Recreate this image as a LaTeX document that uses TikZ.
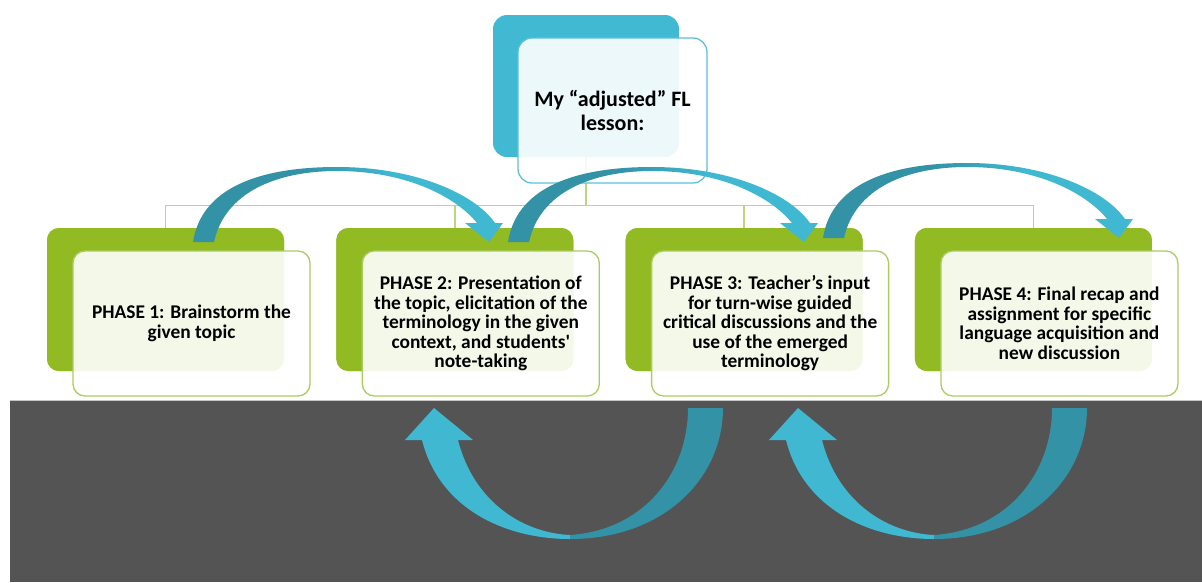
\documentclass[tikz,border=0pt]{standalone}
\usepackage{fontspec}
\setmainfont{Carlito}
\usepackage{tikz}
\usepackage{xcolor}
\usetikzlibrary{positioning}

\definecolor{phasegreen}{RGB}{146,187,35}
\definecolor{edgegreen}{RGB}{170,205,95}
\definecolor{conngreen}{RGB}{188,214,128}
\definecolor{tealback}{RGB}{65,185,211}
\definecolor{tealedge}{RGB}{92,192,216}
\definecolor{arrowlight}{RGB}{64,184,210}
\definecolor{arrowdark}{RGB}{51,146,166}
\definecolor{band}{RGB}{84,84,84}

\tikzset{
	greenback/.style={fill=phasegreen, rounded corners=12pt, inner sep=0pt, minimum width=237pt, minimum height=143pt},
	phasebox/.style={fill=white, fill opacity=0.9, text opacity=1, draw=edgegreen, line width=1.3pt, rounded corners=12pt, inner sep=0pt, minimum width=237pt, minimum height=145pt, align=center, font=\fontsize{19.4}{19.5}\selectfont\bfseries},
	tealbox/.style={fill=tealback, rounded corners=14pt, inner sep=0pt, minimum width=186pt, minimum height=142pt},
	lessonbox/.style={fill=white, fill opacity=0.9, text opacity=1, draw=tealedge, line width=1.3pt, rounded corners=14pt, inner sep=0pt, minimum width=189pt, minimum height=145pt, align=center, font=\fontsize{22}{24.3}\selectfont\bfseries},
	conn/.style={draw=conngreen, line width=1.4pt}
}

\begin{document}
\begin{tikzpicture}[x=1pt, y=-1pt]
		\useasboundingbox (0,0) rectangle (1202,582);
		% dark band at the bottom
		\fill[band] (10,401) rectangle (1202,582);
		\draw[gray!45, line width=1pt] (10,400.5) -- (1202,400.5);

		\node[tealbox] (teal) at (586,86) {};

		\foreach \i in {1,...,4} {
			\node[greenback] (g\i) at ({165.5+289.3*(\i-1)},299.5) {};
		}
		% tree lines
		\foreach \i in {1,...,4} {
			\draw[conn] (teal.south) ++(0,48) -| (g\i.north);
		}
		\draw[conn] (teal.south) -- ++(0,48);
		\foreach \i in {1,...,4} {
			\node[greenback] at (g\i) {};
		}

		\node[lessonbox] (lesson) at (612.5,110.5) {My “adjusted” FL\\lesson:};

		\node[phasebox] (p1) at (191.5,323.5) {PHASE 1: Brainstorm the\\given topic};
		\node[phasebox] (p2) at (480.8,323.5) {PHASE 2: Presentation of\\the topic, elicitation of the\\terminology in the given\\context, and students\textquotesingle\\note-taking};
		\node[phasebox] (p3) at (770.1,323.5) {PHASE 3: Teacher’s input\\for turn-wise guided\\critical discussions and the\\use of the emerged\\terminology};
		\node[phasebox] (p4) at (1059.4,323.5) {PHASE 4: Final recap and\\assignment for specific\\language acquisition and\\new discussion};

		% curved arrows over the phases
		\foreach \ax/\ay in {193/242, 508/242, 823/238} {
			\begin{scope}[shift={(\ax,\ay)}]
				\clip (0,0) .. controls (8,-52) and (62,-75) .. (144,-75)
					.. controls (222,-75) and (282,-48) .. (302,-19)
					-- (310,-19) -- (296,0) -- (272,-19) -- (284,-19)
					.. controls (262,-46) and (212,-71) .. (144,-71)
					.. controls (84,-71) and (32,-50) .. (21,0) -- cycle;
				\fill[arrowdark] (-10,10) rectangle (110,-90);
				\shade[left color=arrowdark, right color=arrowlight] (110,10) rectangle (200,-90);
				\fill[arrowlight] (200,10) rectangle (320,-90);
			\end{scope}
		}

		% u-turn arrows in the band
		\foreach \bx in {434, 798} {
			\begin{scope}[shift={(\bx,408)}]
				\fill[arrowlight] (-29,32) -- (0,0) -- (39,32) -- (24,32)
					.. controls (40,95) and (90,125) .. (136,127) -- (136,131)
					.. controls (70,131) and (5,100) .. (-12,32) -- cycle;
				\fill[arrowdark] (136,127) .. controls (210,122) and (254,65) .. (254,0)
					-- (289,0) .. controls (289,70) and (230,131) .. (136,131) -- cycle;
			\end{scope}
		}
	\end{tikzpicture}
\end{document}
